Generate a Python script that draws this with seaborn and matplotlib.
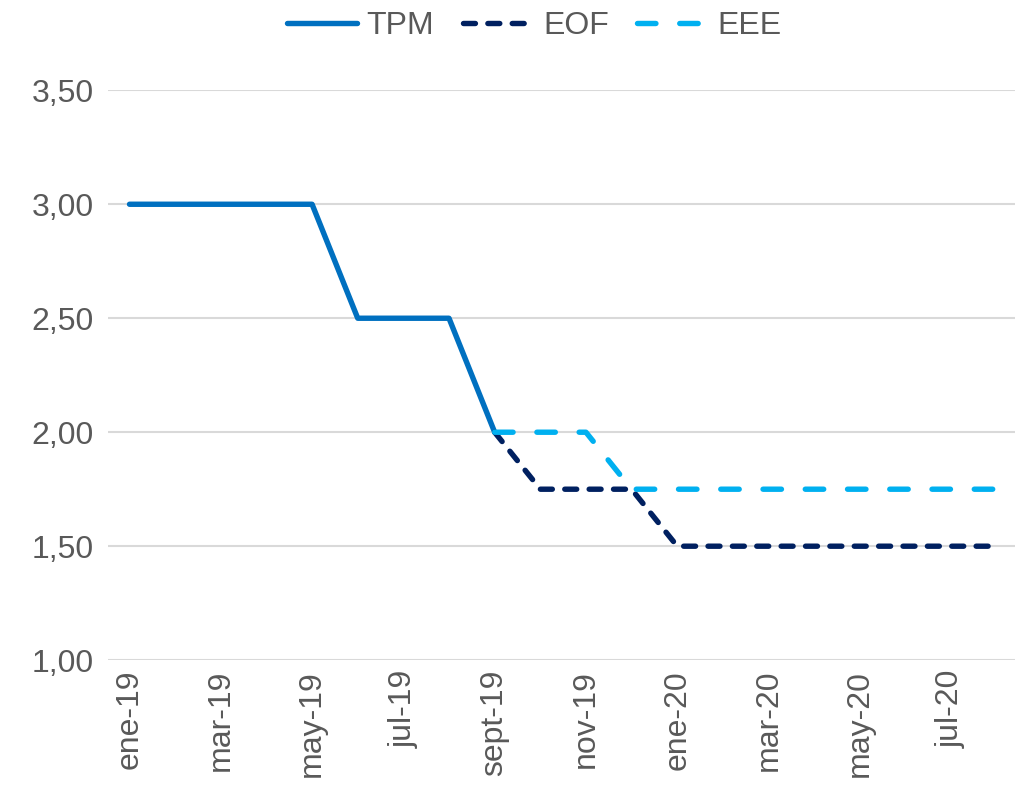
import matplotlib
matplotlib.use("Agg")
import matplotlib.pyplot as plt
import seaborn as sns
import numpy as np
import pandas as pd

# monthly data, ene-19 .. ago-20
months = ["ene-19", "feb-19", "mar-19", "abr-19", "may-19", "jun-19", "jul-19",
          "ago-19", "sept-19", "oct-19", "nov-19", "dic-19", "ene-20", "feb-20",
          "mar-20", "abr-20", "may-20", "jun-20", "jul-20", "ago-20"]
nan = np.nan
tpm = [3.00, 3.00, 3.00, 3.00, 3.00, 2.50, 2.50, 2.50, 2.00,
       nan, nan, nan, nan, nan, nan, nan, nan, nan, nan, nan]
eof = [nan, nan, nan, nan, nan, nan, nan, nan, 2.00,
       1.75, 1.75, 1.75, 1.50, 1.50, 1.50, 1.50, 1.50, 1.50, 1.50, 1.50]
eee = [nan, nan, nan, nan, nan, nan, nan, nan, 2.00,
       2.00, 2.00, 1.75, 1.75, 1.75, 1.75, 1.75, 1.75, 1.75, 1.75, 1.75]

sns.set_theme(style="white")
plt.rcParams["font.family"] = ["Liberation Sans", "DejaVu Sans"]

grey = "#595959"
fig = plt.figure(figsize=(10.15, 7.85), dpi=100)
ax = fig.add_axes([0.106, 0.159, 0.894, 0.726])

x = np.arange(len(months))
lw = 3.9
sns.lineplot(x=x, y=tpm, ax=ax, color="#0070C0", linewidth=lw, label="TPM",
             solid_capstyle="round", solid_joinstyle="round")
sns.lineplot(x=x, y=eof, ax=ax, color="#002060", linewidth=lw, label="EOF",
             linestyle=(0, (2.2, 2.3)), dash_capstyle="round", dash_joinstyle="round")
sns.lineplot(x=x, y=eee, ax=ax, color="#00B0F0", linewidth=lw, label="EEE",
             linestyle=(0, (3.4, 4.4)), dash_capstyle="round", dash_joinstyle="round")

ax.set_ylim(1.0, 3.5)
ax.set_xlim(-0.48, 19.4)
yt = [1.0, 1.5, 2.0, 2.5, 3.0, 3.5]
ax.set_yticks(yt)
ax.set_yticklabels([f"{v:.2f}".replace(".", ",") for v in yt])
ax.set_xticks(x[::2])
ax.set_xticklabels(months[::2], rotation=90)
ax.tick_params(axis="both", colors=grey, labelsize=23, length=0)
ax.tick_params(axis="x", pad=7)
ax.tick_params(axis="y", pad=10)
ax.grid(axis="y", color="#D9D9D9", linewidth=1.5)
ax.set_axisbelow(True)
for s in ax.spines.values():
    s.set_visible(False)

leg = ax.legend(loc="center", bbox_to_anchor=(0.47, 1.112), ncol=3, frameon=False,
                fontsize=23, handlelength=2.2, columnspacing=0.9, handletextpad=0.3)
for t in leg.get_texts():
    t.set_color(grey)

fig.savefig("out.png", dpi=100)
